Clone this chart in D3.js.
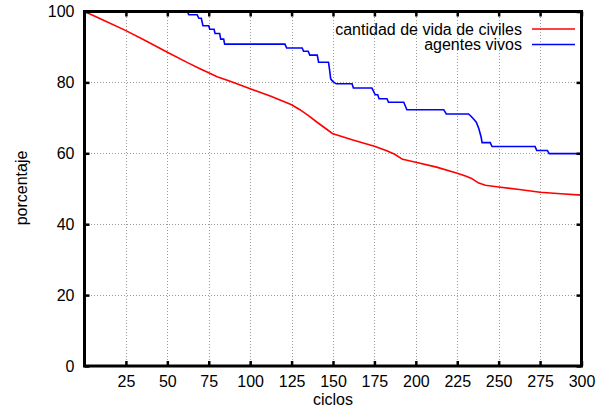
<!DOCTYPE html>
<html>
<head>
<meta charset="utf-8">
<script src="https://cdn.jsdelivr.net/npm/d3@7"></script>
<style>
  html, body { margin: 0; padding: 0; background: #fff; }
  svg { display: block; }
  text { font-family: "Liberation Sans", Arial, Helvetica, sans-serif; fill: #000; }
</style>
</head>
<body>
<svg id="chart" width="608" height="418"></svg>
<script>
// Cycle ticks and percentage ticks
const xTicks = [25, 50, 75, 100, 125, 150, 175, 200, 225, 250, 275, 300];
const yTicks = [0, 20, 40, 60, 80, 100];

// Civilian health remaining (%), sampled by cycle
const civilCycles = [0, 12.5, 25, 37.5, 50, 62.5, 70, 75, 80, 87.5, 100, 112.5, 125, 130, 135, 140, 147, 150,
  162.5, 175, 182, 187, 192, 200, 212.5, 225, 230, 234, 238, 242, 250, 262.5, 275, 287.5, 300];
const civilValues = [100, 97.3, 94.6, 91.6, 88.5, 85.5, 83.8, 82.7, 81.6, 80.4, 78.2, 76.1, 73.7, 72.3, 70.7, 68.9, 66.5, 65.5,
  63.7, 62.0, 60.8, 59.8, 58.3, 57.5, 56.1, 54.4, 53.6, 52.8, 51.6, 51.0, 50.5, 49.8, 49.0, 48.6, 48.2];

// Agents alive (%), one point at each side of every drop
const agentCycles = [0, 62, 63, 68, 69, 70.5, 71.5, 75, 75.6, 78.2, 78.8, 81.6, 82.2, 84, 84.6, 121, 122, 131.4,
  132.2, 135, 136, 140.5, 141.3, 147.3, 148, 148.6, 150, 152, 161.5, 162.3, 173.5, 175.5, 177, 177.8, 182.6,
  183.5, 192.7, 194.6, 216.8, 218.4, 231.8, 233, 235, 236.5, 238, 239.4, 240, 244.9, 246, 272, 273, 279.4, 280.5, 300];
const agentValues = [100, 100, 99.1, 99.1, 98.1, 98.1, 96.0, 96.0, 95.0, 95.0, 93.8, 93.8, 92.2, 92.2, 90.8, 90.8, 89.7, 89.7,
  88.8, 88.8, 87.7, 87.7, 85.7, 85.7, 83.3, 81.0, 80.2, 79.6, 79.6, 78.4, 78.4, 76.5, 76.5, 75.4, 75.4,
  74.4, 74.4, 72.3, 72.3, 71.1, 71.1, 70.6, 69.6, 68.8, 67.0, 64.6, 63.0, 63.0, 61.9, 61.9, 60.8, 60.8, 59.9, 59.9];

const seriesNames = ["cantidad de vida de civiles", "agentes vivos"];
const seriesColors = ["#ff0000", "#0000ff"];

const svg = d3.select("#chart");
const plotL = 84.5, plotR = 581.5, plotT = 11.5, plotB = 366;

const x = d3.scaleLinear().domain([0, 300]).range([plotL, plotR]);
const y = d3.scaleLinear().domain([0, 100]).range([plotB, plotT]);

// Dotted grid
const grid = svg.append("g").attr("stroke", "#9a9a9a").attr("stroke-width", 1)
  .attr("stroke-dasharray", "1,2").attr("shape-rendering", "crispEdges");
grid.selectAll("line.gx").data(xTicks.filter(d => d < 300)).join("line")
  .attr("class", "gx")
  .attr("x1", d => Math.round(x(d)) + 0.5).attr("x2", d => Math.round(x(d)) + 0.5)
  .attr("y1", plotB).attr("y2", plotT);
grid.selectAll("line.gy").data(yTicks.filter(d => d > 0 && d < 100)).join("line")
  .attr("class", "gy")
  .attr("x1", plotL).attr("x2", plotR)
  .attr("y1", d => Math.round(y(d)) + 0.5).attr("y2", d => Math.round(y(d)) + 0.5);

// Data lines
const civil = civilCycles.map((c, i) => [c, civilValues[i]]);
const agents = agentCycles.map((c, i) => [c, agentValues[i]]);
const plainLine = d3.line().x(d => x(d[0])).y(d => y(d[1]));

svg.append("path").datum(civil).attr("d", plainLine)
  .attr("fill", "none").attr("stroke", seriesColors[0]).attr("stroke-width", 1.6)
  .attr("stroke-linejoin", "round");
svg.append("path").datum(agents).attr("d", plainLine)
  .attr("fill", "none").attr("stroke", seriesColors[1]).attr("stroke-width", 1.6);

// Axes with inward ticks on all four sides
const tickLen = 5;
const xAxisB = d3.axisBottom(x).tickValues(xTicks).tickSizeInner(-tickLen).tickSizeOuter(0).tickPadding(10);
const xAxisT = d3.axisTop(x).tickValues(xTicks).tickSizeInner(-tickLen).tickSizeOuter(0).tickFormat("");
const yAxisL = d3.axisLeft(y).tickValues(yTicks).tickSizeInner(-tickLen).tickSizeOuter(0).tickPadding(10);
const yAxisR = d3.axisRight(y).tickValues(yTicks).tickSizeInner(-tickLen).tickSizeOuter(0).tickFormat("");

function styleAxis(g) {
  g.select(".domain").remove();
  g.selectAll(".tick line").attr("stroke", "#000").attr("stroke-width", 2.5);
  g.selectAll(".tick text").attr("font-size", 16)
    .attr("font-family", '"Liberation Sans", Arial, sans-serif').attr("fill", "#000");
}
svg.append("g").attr("transform", `translate(0,${plotB})`).call(xAxisB).call(styleAxis);
svg.append("g").attr("transform", `translate(0,${plotT})`).call(xAxisT).call(styleAxis);
svg.append("g").attr("transform", `translate(${plotL},0)`).call(yAxisL).call(styleAxis);
svg.append("g").attr("transform", `translate(${plotR},0)`).call(yAxisR).call(styleAxis);

// Frame
svg.append("rect").attr("x", plotL).attr("y", plotT).attr("width", plotR - plotL).attr("height", plotB - plotT)
  .attr("fill", "none").attr("stroke", "#000").attr("stroke-width", 3);

// Axis titles
svg.append("text").attr("x", (plotL + plotR) / 2).attr("y", 405).attr("text-anchor", "middle")
  .attr("font-size", 16).text("ciclos");
svg.append("text").attr("transform", "translate(27,188) rotate(-90)").attr("text-anchor", "middle")
  .attr("font-size", 16).text("porcentaje");

// Legend
const legend = svg.append("g");
seriesNames.forEach((name, i) => {
  const ly = 29 + i * 15.5;
  legend.append("text").attr("x", 522).attr("y", ly).attr("dy", "0.35em").attr("text-anchor", "end")
    .attr("font-size", 16).text(name);
  legend.append("line").attr("x1", 532).attr("x2", 575).attr("y1", ly).attr("y2", ly)
    .attr("stroke", seriesColors[i]).attr("stroke-width", 1.6);
});
</script>
</body>
</html>
